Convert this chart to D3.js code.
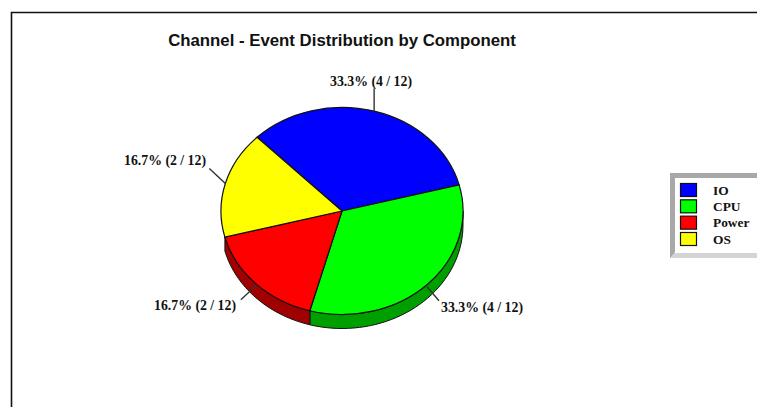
<!DOCTYPE html>
<html>
<head>
<meta charset="utf-8">
<style>
  html, body { margin: 0; padding: 0; background: #fff; }
  svg { display: block; }
  text { fill: #111; }
  .lbl { font: bold 13.8px "Liberation Serif", serif; }
  .key { font: bold 13.4px "Liberation Serif", serif; }
  .ttl { font: bold 16.8px "Liberation Sans", sans-serif; }
</style>
<script src="https://cdn.jsdelivr.net/npm/d3@7/dist/d3.min.js"></script>
</head>
<body>
<svg id="chart" width="757" height="407"></svg>
<script>
const titleText = "Channel - Event Distribution by Component";
const components = ["IO", "CPU", "Power", "OS"];
const eventCounts = [4, 4, 2, 2];
const faceColors = ["#0000ff", "#00ff00", "#ff0000", "#ffff00"];
const wallColors = ["#0000a0", "#009f00", "#a00000", "#a0a000"];

// Pie geometry: the face is a flattened circle with a short wall under it.
const cx = 342, cy = 211, rx = 121, ry = 103.5, depth = 14;
const firstAngle = -44.6 * Math.PI / 180;

// Leader end offsets from the rim, and where each label's text begins, per slice.
const leaderEnds = [[0, -23], [12, 14], [-15, 14], [-16, -15]];
const labelAnchors = [[330, 86], [441, 312], [154, 310], [124, 165]];

const svg = d3.select("#chart");
const total = d3.sum(eventCounts);
const slices = d3.pie().sort(null).value(d => d)
  .startAngle(firstAngle).endAngle(firstAngle + 2 * Math.PI)(eventCounts);

const xAt = a => cx + rx * Math.sin(a);
const yAt = a => cy - ry * Math.cos(a);

// Frame along the top and left edges
svg.append("path").attr("d", "M11.5,407V12.5H757")
  .attr("fill", "none").attr("stroke", "#111").attr("stroke-width", 1.6);

svg.append("text").attr("class", "ttl").attr("x", 342).attr("y", 45.5)
  .attr("text-anchor", "middle").text(titleText);

// Wall under the front slices; the last slice sits behind the rim and shows none
const rimLine = d3.line().x(d => d[0]).y(d => d[1]);
const frontFrom = Math.PI / 2;
const frontTo = slices[3].startAngle;
const walls = svg.append("g");
slices.forEach((s, i) => {
  const a0 = Math.max(s.startAngle, frontFrom);
  const a1 = Math.min(s.endAngle, frontTo);
  if (a1 <= a0) return;
  const samples = d3.range(0, 41).map(k => a0 + (a1 - a0) * k / 40);
  const upper = samples.map(a => [xAt(a), yAt(a)]);
  const lower = samples.slice().reverse().map(a => [xAt(a), yAt(a) + depth]);
  walls.append("path").attr("d", rimLine(upper.concat(lower)) + "Z")
    .attr("fill", wallColors[i]).attr("stroke", "#111").attr("stroke-width", 1);
});

// Top faces, drawn on a unit-radius arc and flattened with a transform
const arc = d3.arc().innerRadius(0).outerRadius(1);
svg.append("g")
  .attr("transform", `translate(${cx},${cy}) scale(${rx},${ry})`)
  .selectAll("path").data(slices).join("path")
  .attr("d", arc)
  .attr("fill", (d, i) => faceColors[i])
  .attr("stroke", "#111").attr("stroke-width", 1.2)
  .attr("vector-effect", "non-scaling-stroke");

// Leader lines and value labels
slices.forEach((s, i) => {
  const mid = (s.startAngle + s.endAngle) / 2;
  const x0 = xAt(mid), y0 = yAt(mid) + (Math.cos(mid) < 0 ? 2 : 0);
  svg.append("line")
    .attr("x1", x0).attr("y1", y0)
    .attr("x2", x0 + leaderEnds[i][0]).attr("y2", y0 + leaderEnds[i][1])
    .attr("stroke", "#333").attr("stroke-width", 1.4);
  const pct = d3.format(".1f")(100 * eventCounts[i] / total);
  svg.append("text").attr("class", "lbl")
    .attr("x", labelAnchors[i][0]).attr("y", labelAnchors[i][1])
    .text(`${pct}% (${eventCounts[i]} / ${total})`);
});

// Legend panel with a bevelled grey edge
const legend = svg.append("g");
legend.append("rect").attr("x", 670).attr("y", 173).attr("width", 87).attr("height", 85).attr("fill", "#d4d4d4");
legend.append("path").attr("d", "M670,173H757V178H675V252L670,258Z").attr("fill", "#a8a8a8");
legend.append("rect").attr("x", 675).attr("y", 178).attr("width", 82).attr("height", 75).attr("fill", "#fff");
const rowY = d3.scalePoint().domain(components).range([183.5, 232.5]);
components.forEach((name, i) => {
  legend.append("rect").attr("x", 680.5).attr("y", rowY(name))
    .attr("width", 16).attr("height", 13)
    .attr("fill", faceColors[i]).attr("stroke", "#111").attr("stroke-width", 1.2);
  legend.append("text").attr("class", "key").attr("x", 713).attr("y", rowY(name) + 11).text(name);
});
</script>
</body>
</html>
